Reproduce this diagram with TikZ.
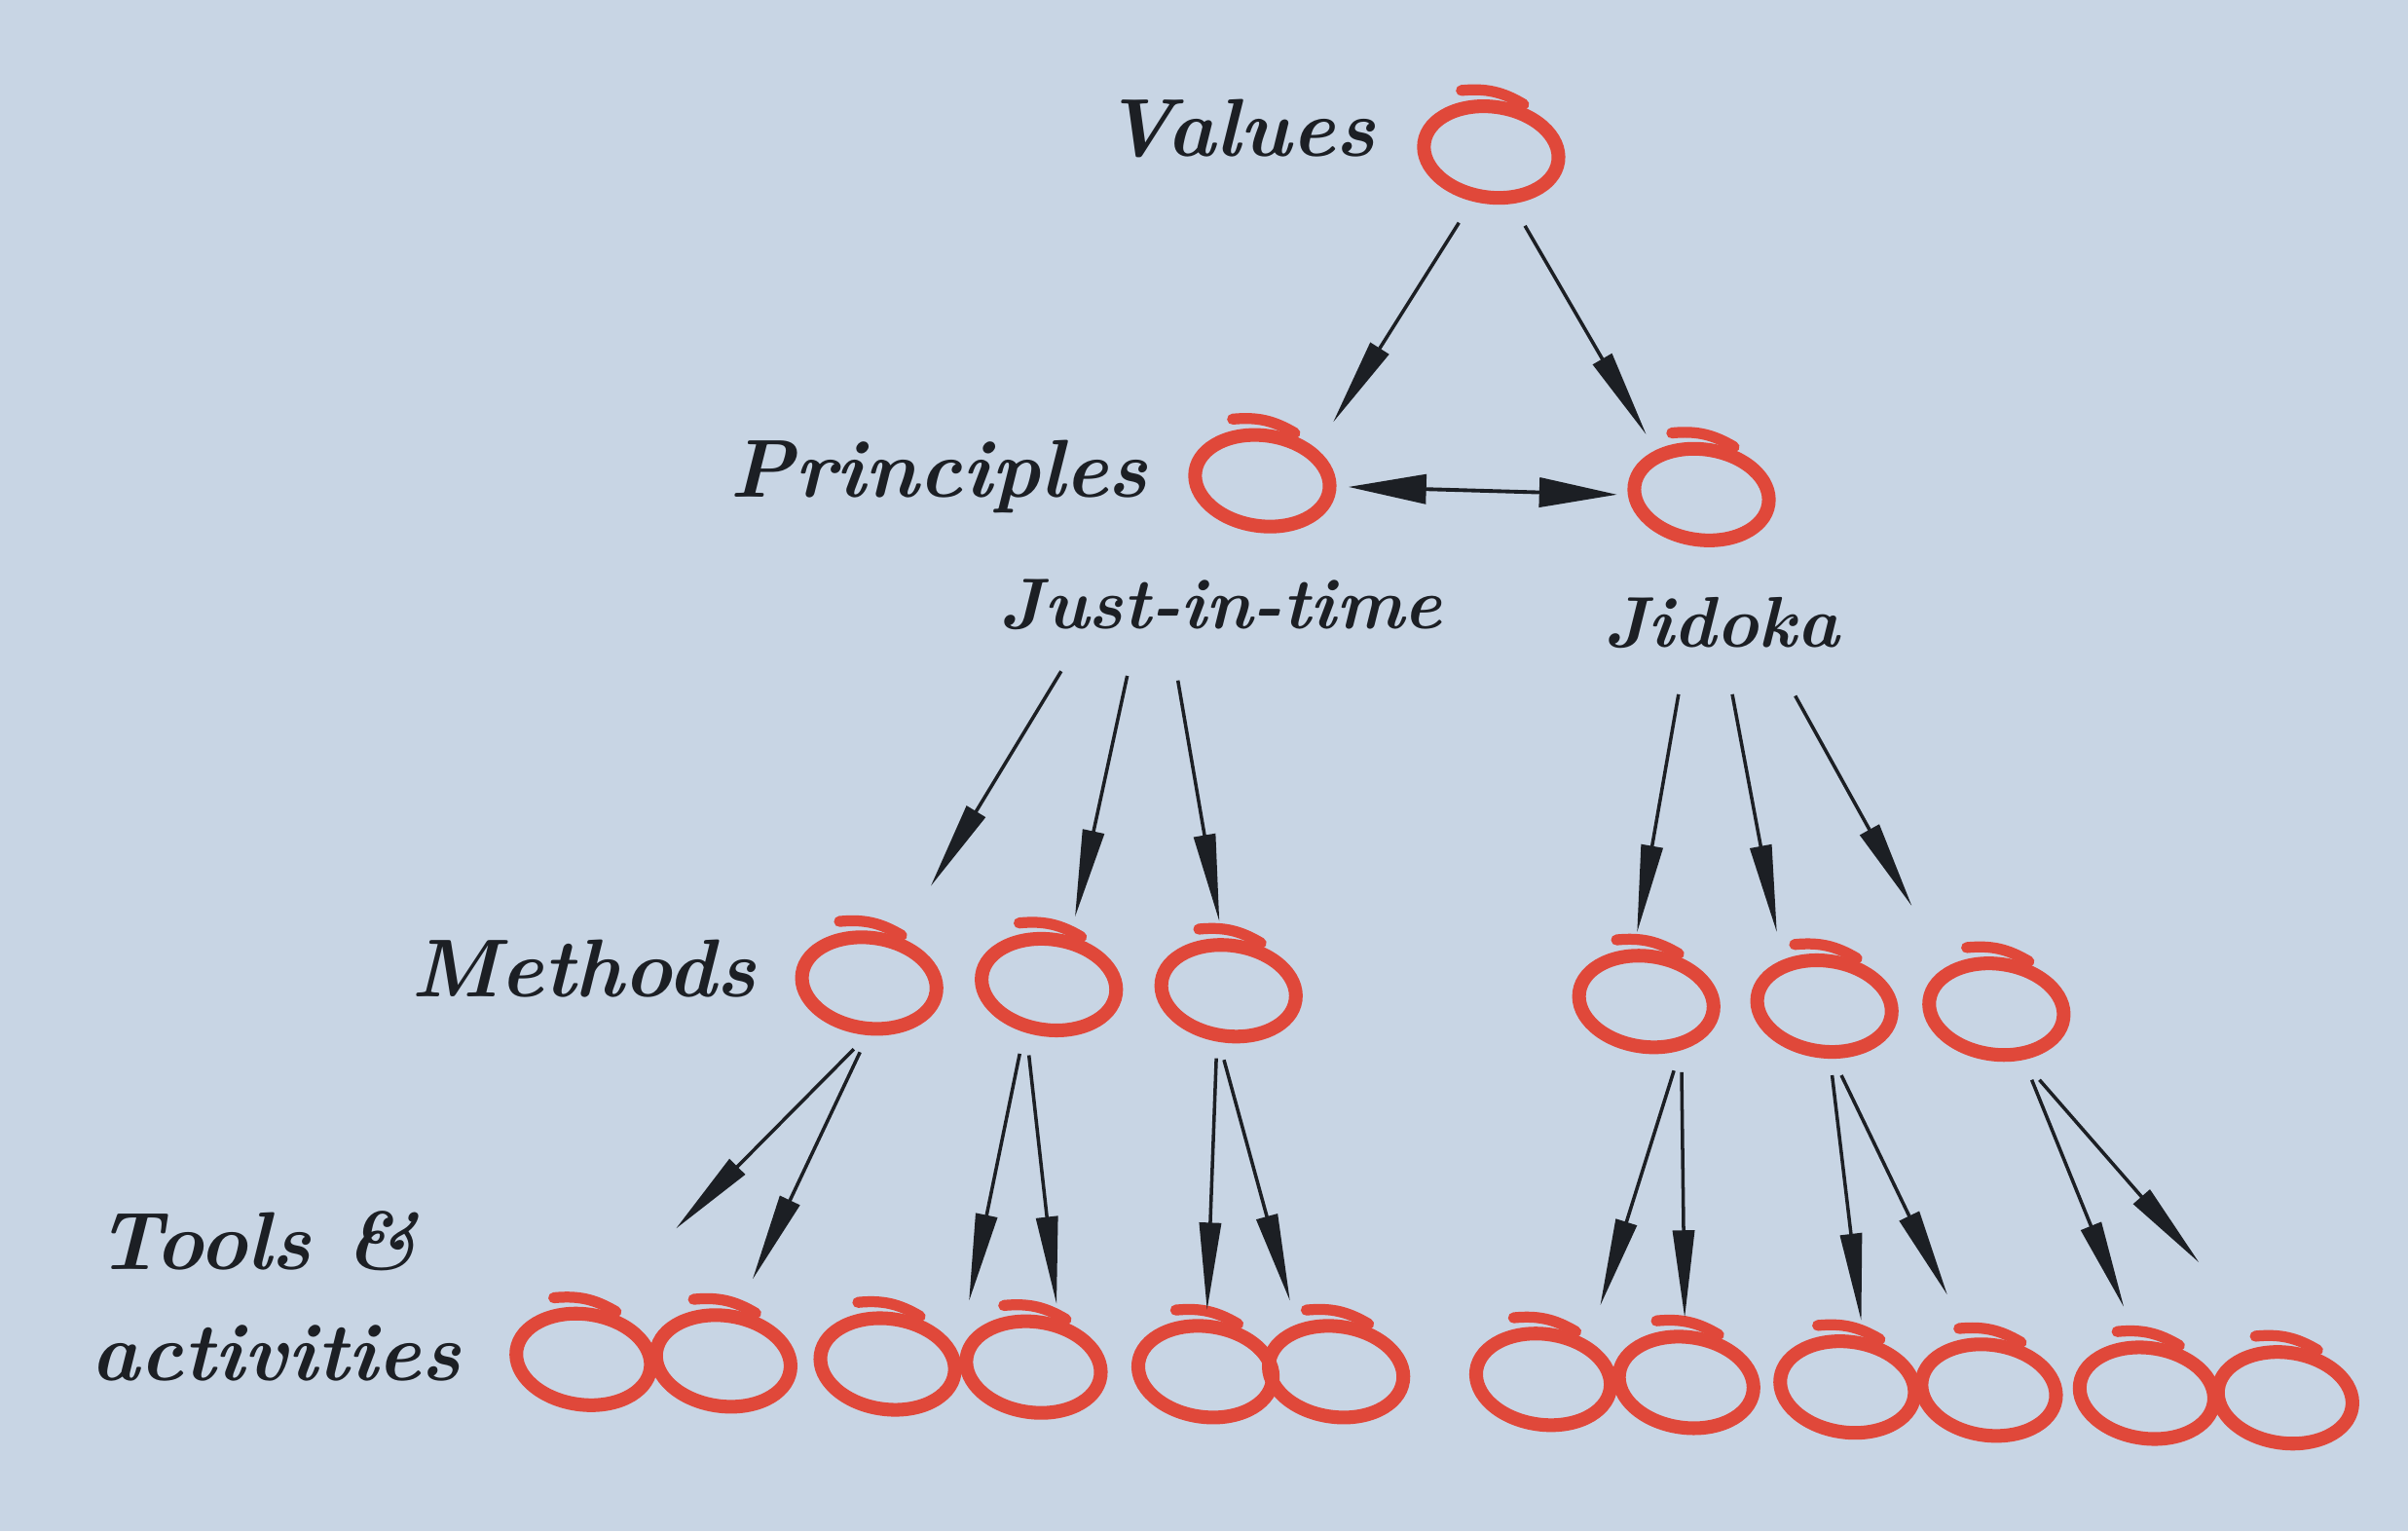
\documentclass[tikz,border=0pt]{standalone}
\usepackage{xcolor}
\usepackage{tikz}
\usetikzlibrary{positioning,arrows.meta,shapes.geometric}
\definecolor{TInk}{HTML}{1C1F24}
\definecolor{TRed}{HTML}{E0483A}
\definecolor{TPaper}{HTML}{C8D5E4}

\begin{document}
\begin{tikzpicture}[x=0.01577cm, y=-0.01577cm,
  lbl/.style ={font=\fontsize{24}{28}\selectfont\bfseries\itshape, text=TInk, inner sep=0pt},
  sublbl/.style={font=\fontsize{21}{25}\selectfont\bfseries\itshape, text=TInk, inner sep=0pt},
  hookpen/.style={draw=TRed, line width=3.2pt, line cap=round, bend left=18},
  ring/.style={ellipse, draw=TRed, line width=4pt, minimum width=1.39cm, minimum height=0.93cm, inner sep=0pt, rotate=-8,
               append after command={([shift={(-0.4mm,1.1mm)}]\tikzlastnode.125) edge[hookpen] ([yshift=0.3mm]\tikzlastnode.62)}},
  arr/.style ={-{Triangle[length=9mm,width=2.2mm]}, draw=TInk, line width=1pt},
  both/.style={{Triangle[length=8mm,width=3mm]}-{Triangle[length=8mm,width=3mm]}, draw=TInk, line width=1.1pt},
]
\fill[TPaper] (0,0) rectangle (1568,997);

\node[ring] (val) at (971,99)  {};
\node[ring] (jit) at (822,313) {};
\node[ring] (jid) at (1108,322) {};
\foreach \n/\x/\y in {1/566/640, 2/683/641, 3/800/645, 4/1072/652, 5/1188/655, 6/1300/657}
  \node[ring] (m\n) at (\x,\y) {};
\foreach \n/\x/\y in {1/380/885, 2/471/886, 3/578/888, 4/673/890, 5/785/893, 6/870/893,
                      7/1005/898, 8/1098/900, 9/1203/903, 10/1295/905, 11/1398/907, 12/1488/910}
  \node[ring] (b\n) at (\x,\y) {};

\node[lbl, left=4.3mm of val, anchor=base east, yshift=-1.5mm] (values) {Values};
\node[lbl, left=4.1mm of jit, anchor=base east, yshift=-2.8mm] (princ) {Principles};
\node[lbl, left=4mm of m1, anchor=base east, yshift=-2.5mm] (meth) {Methods};
\node[lbl, left=4.9mm of b1, anchor=base east, yshift=-3.2mm] (act) {activities};
\node[lbl, anchor=base west] (tools) at ([shift={(0.6mm,11.4mm)}]act.base west) {Tools \&};
\node[sublbl, below=9.9mm of jit, anchor=base, xshift=-3.5mm] (jt) {Just-in-time};
\node[sublbl, below=10.4mm of jid, anchor=base, xshift=2.8mm] (jd) {Jidoka};

\draw[both] ([shift={(56,4)}]jit.center) -- ([shift={(-55,0)}]jid.center);
\foreach \s/\sx/\sy/\t/\tx/\ty in {val/-21/46/jit/46/-38, val/22/48/jid/-36/-39,
    jit/-131/124/m1/40/-63, jit/-88/127/m2/17/-44, jit/-55/130/m3/-6/-45,
    jid/-15/130/m4/-6/-45, jid/20/130/m5/-31/-48, jid/61/131/m6/-55/-67,
    m1/-10/43/b1/60/-85, m1/-6/45/b2/19/-53, m2/-19/45/b3/53/-41, m2/-13/46/b4/15/-41,
    m3/-8/44/b5/1/-40, m3/-3/45/b6/-30/-46, m4/18/45/b7/37/-48, m4/23/46/b8/-1/-42,
    m5/5/45/b9/9/-43, m5/11/45/b10/-27/-62, m6/23/46/b11/-15/-56, m6/28/46/b12/-56/-88}
  \draw[arr] ([shift={(\sx,\sy)}]\s.center) -- ([shift={(\tx,\ty)}]\t.center);
\end{tikzpicture}
\end{document}
